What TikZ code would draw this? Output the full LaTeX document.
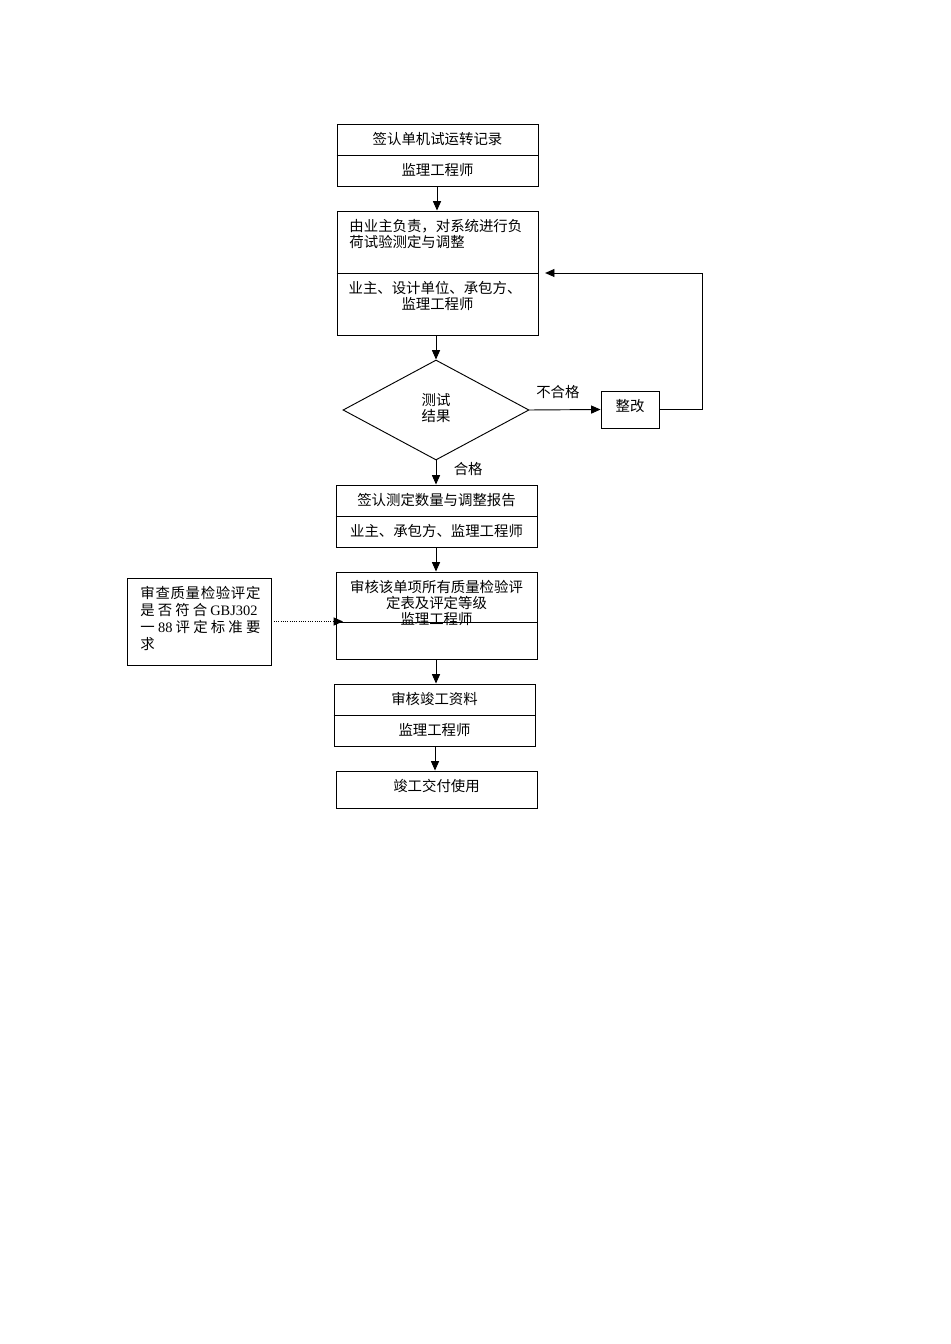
\documentclass[tikz,border=0pt]{standalone}
\usepackage{fontspec}
\setmainfont{Noto Sans CJK SC}
\newfontfamily\lat{Liberation Serif}
\usetikzlibrary{arrows.meta,shapes.geometric}
\begin{document}
\begin{tikzpicture}[x=0.75pt,y=-0.75pt,line width=0.7pt,
  font=\fontsize{10.8pt}{12pt}\selectfont,
  box/.style={draw,rectangle,inner sep=0pt},
  txt/.style={inner sep=0pt},
  arr/.style={-{Triangle[length=7pt,width=6pt]}}]
\useasboundingbox (0,0) rectangle (950,1344);

% box 1
\node[box,minimum width=201*0.75pt,minimum height=62*0.75pt] (b1) at (437.5,155) {};
\draw (b1.west) -- (b1.east);
\node[txt] (t1a) at (437.5,139) {签认单机试运转记录};
\node[txt] (t1b) at (437.5,170) {监理工程师};

% box 2
\node[box,minimum width=201*0.75pt,minimum height=124*0.75pt] (b2) at (437.5,273) {};
\draw (b2.west) -- (b2.east);
\node[txt,anchor=west] (t2a) at (349,226) {由业主负责，对系统进行负};
\node[txt,anchor=west] (t2b) at (349,242) {荷试验测定与调整};
\node[txt] (t2c) at (435,288) {业主、设计单位、承包方、};
\node[txt] (t2d) at (437.5,304) {监理工程师};

% decision
\node[draw,diamond,inner sep=0pt,minimum width=186*0.75pt,minimum height=100*0.75pt] (d) at (436,410) {};
\node[txt] (td1) at (436,400) {测试};
\node[txt] (td2) at (436,416) {结果};

% rework
\node[box,minimum width=58*0.75pt,minimum height=37*0.75pt] (zg) at (630,409.5) {};
\node[txt] (tzg) at (630,406) {整改};
\coordinate (c1) at (702,409.5);

% box 3
\node[box,minimum width=201*0.75pt,minimum height=62*0.75pt] (b3) at (436.5,516) {};
\draw (b3.west) -- (b3.east);
\node[txt] (t3a) at (436.5,500) {签认测定数量与调整报告};
\node[txt] (t3b) at (436.5,531) {业主、承包方、监理工程师};

% box 4
\node[box,minimum width=201*0.75pt,minimum height=87*0.75pt] (b4) at (436.5,615.5) {};
\draw (b4.west |- 0,622) -- (b4.east |- 0,622);
\node[txt] (t4a) at (436.5,587) {审核该单项所有质量检验评};
\node[txt] (t4b) at (436.5,603) {定表及评定等级};
\node[txt] (t4c) at (436.5,619) {监理工程师};

% left box
\node[box,minimum width=144*0.75pt,minimum height=87*0.75pt] (lb) at (199,621.5) {};
\node[txt,anchor=west] (l1) at (140,593) {\makebox[90pt][l]{审\hfill 查\hfill 质\hfill 量\hfill 检\hfill 验\hfill 评\hfill 定}};
\node[txt,anchor=west] (l2) at (140,610) {\makebox[87.75pt][l]{是\hfill 否\hfill 符\hfill 合\hfill {\lat GBJ302}}};
\node[txt,anchor=west] (l3) at (140,627) {\makebox[90pt][l]{一\hfill {\lat 88}\hfill 评\hfill 定\hfill 标\hfill 准\hfill 要}};
\node[txt,anchor=west] (l4) at (140,644) {求};
\coordinate (c2) at (343,621.5);

% box 5
\node[box,minimum width=201*0.75pt,minimum height=62*0.75pt] (b5) at (434.5,715) {};
\draw (b5.west) -- (b5.east);
\node[txt] (t5a) at (434.5,699) {审核竣工资料};
\node[txt] (t5b) at (434.5,730) {监理工程师};

% box 6
\node[box,minimum width=201*0.75pt,minimum height=37*0.75pt] (b6) at (436.5,789.5) {};
\node[txt] (t6) at (436.5,786) {竣工交付使用};

% connectors
\draw[arr] (b1.south -| 437,0) -- (b2.north -| 437,0);
\draw[arr] (b2.south -| 436,0) -- (d.north);
\draw[arr] (d.east) -- node[txt,above=8pt,pos=0.4] (lno) {不合格} (zg.west);
\draw[arr,shorten >=5pt] (zg.east) -- (c1) |- (b2.east);
\draw[arr] (d.south) -- node[txt,right=13pt,pos=0.35] (lyes) {合格} (b3.north -| d.south);
\draw[arr] (b3.south -| 436,0) -- (b4.north -| 436,0);
\draw[arr,densely dotted] (lb.east) -- (c2);
\draw[arr] (b4.south -| 436,0) -- (b5.north -| 436,0);
\draw[arr] (b5.south -| 435,0) -- (b6.north -| 435,0);
\end{tikzpicture}
\end{document}
